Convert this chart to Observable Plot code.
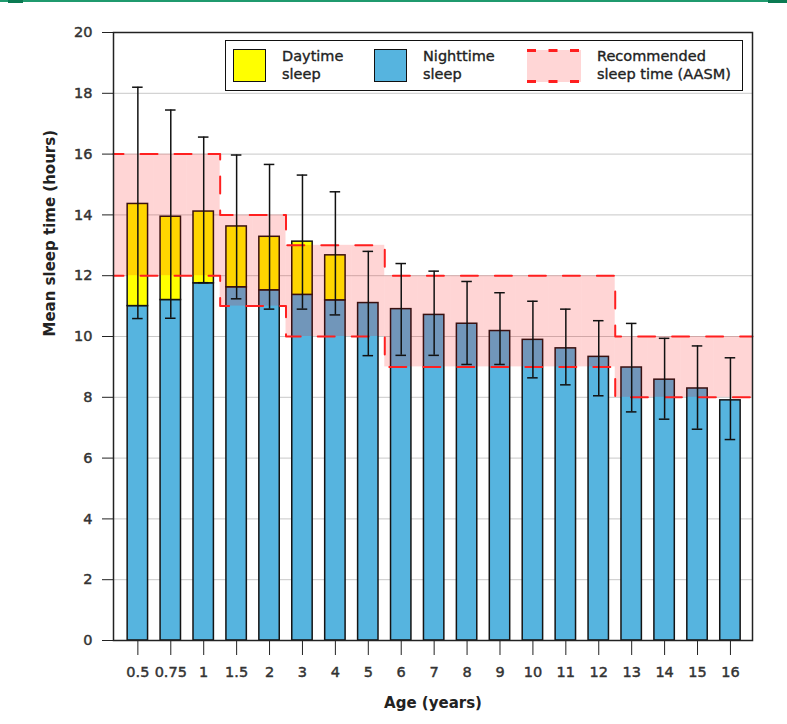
<!DOCTYPE html>
<html>
<head>
<meta charset="utf-8">
<script src="https://cdn.jsdelivr.net/npm/d3@7"></script>
<script src="https://cdn.jsdelivr.net/npm/@observablehq/plot@0.6"></script>
<style>
  html, body { margin: 0; padding: 0; background: #fff; }
  #wrap { position: relative; width: 787px; height: 724px; font-family: "DejaVu Sans", Verdana, sans-serif; }
  #topline { position: absolute; left: 0; top: 0; width: 787px; height: 2px; background: #1f9a6e; }
  .tblock { position: absolute; top: 0; height: 3px; background: #0b7a52; }
  #legend { position: absolute; left: 225px; top: 40px; width: 516px; height: 49px; border: 1.5px solid #111; background: #fff; }
  .sw { position: absolute; top: 8px; width: 31px; height: 31px; border: 1.5px solid #111; box-sizing: content-box; }
  .lt { position: absolute; top: 7px; font-size: 14.5px; line-height: 17.5px; color: #222; white-space: nowrap; -webkit-text-stroke: 0.35px #222; }
  .swrec { position: absolute; top: 8px; }
  #chart g[aria-label="x-axis tick label"] text,
  #chart g[aria-label="y-axis tick label"] text { stroke: #333; stroke-width: 0.45px; }
</style>
</head>
<body>
<div id="wrap">
  <div id="chart"></div>
  <div id="topline"></div>
  <div class="tblock" style="left:8px;width:15px"></div>
  <div class="tblock" style="left:768px;width:19px"></div>
  <div id="legend"></div>
</div>
<script>
// ---- data ----
const ages = ["0.5", "0.75", "1", "1.5", "2", "3", "4", "5", "6", "7", "8", "9", "10", "11", "12", "13", "14", "15", "16"];
const nightHours = [11.0, 11.2, 11.75, 11.62, 11.52, 11.37, 11.19, 11.1, 10.9, 10.71, 10.42, 10.18, 9.89, 9.61, 9.33, 8.98, 8.58, 8.29, 7.9];
const dayHours = [3.36, 2.74, 2.36, 2.0, 1.76, 1.75, 1.48, 0, 0, 0, 0, 0, 0, 0, 0, 0, 0, 0, 0];
const errHigh = [18.2, 17.45, 16.56, 15.97, 15.66, 15.31, 14.76, 12.8, 12.4, 12.15, 11.81, 11.44, 11.16, 10.9, 10.52, 10.43, 9.94, 9.69, 9.3];
const errLow = [10.59, 10.6, 11.77, 11.24, 10.9, 10.9, 10.71, 9.37, 9.38, 9.38, 9.08, 9.08, 8.64, 8.41, 8.05, 7.52, 7.28, 6.95, 6.61];
const recLow = [12, 12, 12, 11, 11, 10, 10, 10, 9, 9, 9, 9, 9, 9, 9, 8, 8, 8, 8];
const recHigh = [16, 16, 16, 14, 14, 13, 13, 13, 12, 12, 12, 12, 12, 12, 12, 10, 10, 10, 10];
const yTicks = [0, 2, 4, 6, 8, 10, 12, 14, 16, 18, 20];
const legendLabels = [["Daytime", "sleep"], ["Nighttime", "sleep"], ["Recommended", "sleep time (AASM)"]];
const xTitle = "Age (years)";
const yTitle = "Mean sleep time (hours)";

// ---- build table ----
const xDomain = [-0.74, 18.67];
const last = ages.length - 1;
const rows = ages.map((a, i) => ({
  i, age: a, night: nightHours[i], day: dayHours[i], total: nightHours[i] + dayHours[i],
  hi: errHigh[i], lo: errLow[i], rlo: recLow[i], rhi: recHigh[i],
  e1: i === 0 ? xDomain[0] : i - 0.5,
  e2: i === last ? xDomain[1] : i + 0.5
}));
const recPts = rows.flatMap(d => [{x: d.e1, lo: d.rlo, hi: d.rhi}, {x: d.e2, lo: d.rlo, hi: d.rhi}]);

const BLUE = "#56b4df", YELLOW = "#ffff00", RED = "#ff1f1f";
const half = 0.31, cap = 0.16;

const chart = Plot.plot({
  width: 787,
  height: 724,
  marginTop: 32,
  marginRight: 35,
  marginBottom: 84,
  marginLeft: 113,
  style: {fontFamily: "DejaVu Sans", fontSize: "14.5px", color: "#222", background: "white"},
  x: {type: "linear", domain: xDomain},
  y: {type: "linear", domain: [0, 20]},
  marks: [
    Plot.gridY(yTicks, {stroke: "#c8c8c8", strokeOpacity: 1, strokeWidth: 1}),
    Plot.rect(rows, {x1: d => d.i - half, x2: d => d.i + half, y1: 0, y2: "night", fill: BLUE, stroke: "#141414", strokeWidth: 1.5}),
    Plot.rect(rows.filter(d => d.day > 0), {x1: d => d.i - half, x2: d => d.i + half, y1: "night", y2: "total", fill: YELLOW, stroke: "#141414", strokeWidth: 1.5}),
    Plot.rect(rows, {x1: "e1", x2: "e2", y1: "rlo", y2: "rhi", fill: "#ff0000", fillOpacity: 0.165}),
    Plot.line(recPts, {x: "x", y: "hi", stroke: RED, strokeWidth: 2, strokeDasharray: "17,17", strokeDashoffset: 7}),
    Plot.line(recPts, {x: "x", y: "lo", stroke: RED, strokeWidth: 2, strokeDasharray: "17,17", strokeDashoffset: 7}),
    Plot.ruleX(rows, {x: "i", y1: "lo", y2: "hi", stroke: "#111", strokeWidth: 1.5}),
    Plot.ruleY(rows, {y: "hi", x1: d => d.i - cap, x2: d => d.i + cap, stroke: "#111", strokeWidth: 1.5}),
    Plot.ruleY(rows, {y: "lo", x1: d => d.i - cap, x2: d => d.i + cap, stroke: "#111", strokeWidth: 1.5}),
    Plot.axisY(yTicks, {tickSize: 11, tickPadding: 10, fontSize: 14.5, fill: "#333", stroke: "#222", label: null}),
    Plot.axisX(rows.map(d => d.i), {tickFormat: i => ages[i], tickSize: 15, tickPadding: 11, fontSize: 14.5, fill: "#333", stroke: "#222", label: null}),
    Plot.frame({stroke: "#222", strokeWidth: 1.5}),
    Plot.text([yTitle], {frameAnchor: "left", dx: -63, rotate: -90, fontWeight: "bold", fontSize: 15, fill: "#222"}),
    Plot.text([xTitle], {frameAnchor: "bottom", dy: 67, fontWeight: "bold", fontSize: 15, fill: "#222"})
  ]
});
document.getElementById("chart").appendChild(chart);

// ---- legend ----
const legend = document.getElementById("legend");
const swPos = [7, 148, 301];
const txtPos = [56, 197, 371];
const swFill = [YELLOW, BLUE, null];
legendLabels.forEach((lab, k) => {
  if (swFill[k]) {
    const s = document.createElement("div");
    s.className = "sw";
    s.style.left = swPos[k] + "px";
    s.style.background = swFill[k];
    legend.appendChild(s);
  } else {
    const ns = "http://www.w3.org/2000/svg";
    const svg = document.createElementNS(ns, "svg");
    svg.setAttribute("class", "swrec");
    svg.setAttribute("width", 54);
    svg.setAttribute("height", 34);
    svg.style.left = swPos[k] + "px";
    const r = document.createElementNS(ns, "rect");
    r.setAttribute("x", 0); r.setAttribute("y", 1); r.setAttribute("width", 54); r.setAttribute("height", 32);
    r.setAttribute("fill", "#ffd6d6");
    svg.appendChild(r);
    [1.5, 32.5].forEach(yy => {
      const l = document.createElementNS(ns, "line");
      l.setAttribute("x1", 0); l.setAttribute("x2", 54);
      l.setAttribute("y1", yy); l.setAttribute("y2", yy);
      l.setAttribute("stroke", RED); l.setAttribute("stroke-width", 3);
      l.setAttribute("stroke-dasharray", "9,12.5");
      svg.appendChild(l);
    });
    legend.appendChild(svg);
  }
  const t = document.createElement("div");
  t.className = "lt";
  t.style.left = txtPos[k] + "px";
  t.innerHTML = lab.join("<br>");
  legend.appendChild(t);
});
</script>
</body>
</html>
